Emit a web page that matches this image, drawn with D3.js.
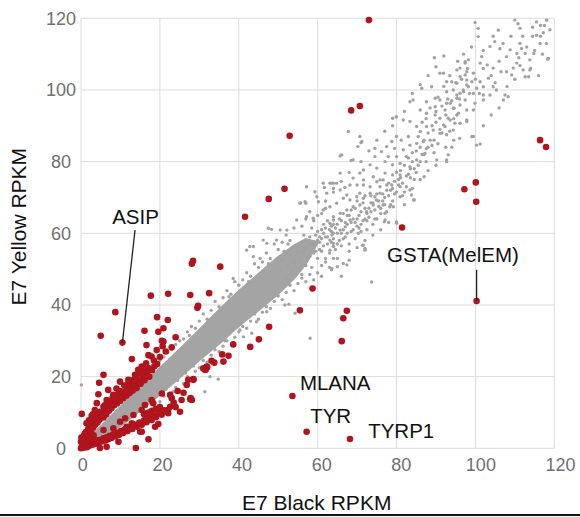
<!DOCTYPE html>
<html><head><meta charset="utf-8">
<script src="https://cdn.jsdelivr.net/npm/d3@7"></script>
<style>body{margin:0;background:#fff}svg{display:block}</style></head>
<body><svg id="c" width="580" height="517"></svg>
<script>
const xTicks=[0,20,40,60,80,100,120];
const yTicks=[0,20,40,60,80,100,120];
const xTitle="E7 Black RPKM";
const yTitle="E7 Yellow RPKM";
// dense core of the grey cloud (upper and lower edge, data units)
const coreUpper=[[0,0.9],[5,6],[10,11.5],[15,17],[20,22.3],[25,27.5],[30,33],[36,39.6],[40,43.8],[45,48.6],[50,53.3],[54,56.5],[57,58.3],[60,57.5]];
const coreLower=[[0.6,0],[5,2.8],[10,6.3],[15,10.6],[20,15.1],[25,19.8],[30,24.7],[36,30.2],[40,34.2],[45,38.6],[50,43.2],[54,47.5],[57,51.5]];
// individually visible grey genes
const greyPts=[
[0.1,17.7],[20.9,9],[34.8,19.3],[31.4,15.8],[32.7,20],[51.7,40],[52.7,40.2],[58.1,30.7],[54.3,37.7],[73.7,46.4],[47.1,38.1],[41.2,31.1],[40.3,33],[44.5,35.3],[43.3,32.1],[23.4,15.8],
[42,55.3],[43.7,56.3],[38.6,47.4],[42.8,56.3],[46.2,58.1],[47.1,57.2],[49.6,58.1],[43.7,53.5],[45.4,53],[47.5,61.4],[48.3,61.1],[50.5,60.9],[52.2,60.9],[54.7,63.7],[57.2,64.6],[58.9,64.2],[55.5,68.4],[56.8,68.8],[57.2,73],[59.3,71.6],[59.8,70.2],[60.2,68.8],[61.4,66.5],[63.6,74],[57,68.4],
[99.9,118.8],[100.7,117.2],[100.7,114.9],[105.8,116.7],[89.6,109],[103.7,112.1],[79.9,92.5],[70.7,87],[71,85.3],[65.7,81.6],[68.5,80.3],[61.7,72.8],[64,74],[55.7,68.5],[83.4,72.1],[84.5,69.3],[87,75.8],[92.7,80],[93.1,81.9],[99.1,87],[100.3,84.6],[101.2,84.9],[108.3,98.1],[107.1,97.2],[118.3,108.6],[118.9,116.8],[118.1,119.5],[80,63.2],[77.1,65.6],[78.3,67.4],[71.4,56.7],[63.6,59.5],[64,56.3],[72,55.8],
[110,119.5],[110.8,118.5],[111.3,117.2],[115.5,119],[116.5,118],[118,119.5],[117.2,116],[115.5,115.3],[114.5,115],[118,113],[116.4,113],[111.3,113],[111.7,111.6],[108.8,111.2],[110.5,110.2],[112.6,110.2],[114.8,110.2],[107.9,109.3],[118.5,108.8],[113.8,108.4],[110.5,107.5],[111.3,106.8],[109.6,106.1],[112.1,105.6],[113.8,105.6],[107.9,105.1],[106.5,105.1],[109.2,104.2],[112.6,103.7],[113.5,103.7],[104.5,106.1],[103.3,103.3],[101.2,107.5],[102,106],[99.5,104.7],[99.1,102.3],[101.2,102.3],[98.2,100.9],[100.3,100.5],[102,100.9],[104.5,100.9],[105.3,100],[107.5,98.6],[103.7,98.6],[102,98.6],[99.5,99],[96.9,100],[96.1,99.1],[97.4,97.2],[95.3,97.7],[94.4,100],[92.7,102.3],[91.9,104.7],[93.6,96.3],[92.3,94.4],[94.6,94.9],[95.7,93.5],[99.5,94.4],[99.9,96.3],[102,97.2],[97.8,91.6],[96.1,90.7],[93.6,91.6],[91.9,90.2],[94.4,88.8],[92.7,87.5],[99.5,87],[98.2,108.4],[97.4,107.5],[97.8,105.1],[95.3,105.6],[96.1,103.7],[97.8,102.8],[104.9,113.5],[106.2,111.5],[97.4,107.9],[101.6,109.3],
[91,104.7],[96.1,106.1],[97.4,104.2],[94,102.3],[95.3,101.9],[97.8,101.4],[86.4,100.5],[88.9,100.9],[89.8,97.7],[92.7,99.5],[95.3,98.6],[97,99.5],[83.4,96.7],[84.2,97.2],[87.6,96.7],[89.8,95.3],[91,97.2],[92.7,96.3],[94.4,94.9],[96.1,95.8],[97.8,94.4],[95.3,93],[86,94.4],[87.6,93.5],[89.8,93],[91,92.1],[93.1,92.1],[94.8,90.7],[97.8,91.2],[83.4,91.2],[85.1,89.8],[86,88.4],[87.6,89.8],[89.3,88.8],[91,87.9],[92.3,89.8],[81.7,91.6],[80,87],[78.8,85.6],[81.2,86],[83,87],[83.4,84.6],[85.1,85.1],[86.8,85.6],[87.6,83.7],[81.7,83.3],[79.5,83.7],[77.5,84.2],[76.2,82.8],[74.5,81.4],[77.9,81.4],[80,81.4],[82.5,81.4],[85.1,80.5],[87.2,82.3],[90.2,80.5],[92.7,80.5],[77.1,80],[79,79.1],[80.9,79.5],[83.4,78.6],[73.3,79.1],[75,78.2],[71.6,77.7],[70.7,76.8],[77.1,76.8],[79,76.3],[80.9,76.3],[74.1,75.8],[75.8,74.9],[71.6,74.9],[69,75.4],[68.2,73.5],[70,73.5],[73.3,73],[77.5,73.5],[80.9,73],[65.7,72.1],[64,72.5],[61.4,74],[62.3,71.2],[67.4,70.7],[70.7,71.2],[74.5,70.2],[65.7,76.8],[66.1,81.9],[67.8,88.4],[70.2,84.2],[71.2,85.6],[74.5,83.7],[80,92.5],[79,92.1],
[63.1,74],[64.8,74],[66.9,72.8],[71.6,73.5],[75,74.4],[75.8,73],[75.8,71.2],[76.6,74.9],[78.8,73.5],[73.3,71.2],[71.6,69.8],[69.9,70.2],[68.2,69.3],[66.5,69.8],[64.8,68.4],[63.1,67.4],[67.4,66.5],[65.7,65.6],[64,64.6],[69,67.4],[70.7,67.9],[74.1,67.9],[74.9,69.3],[72.4,66],[63.1,62.8],[64,63.7],[68.2,63.7],[65.7,60.9],[64,60],[67,61.8],[63.1,58.1],[64,57.2],[63.1,55.3],[64,53],[67.4,51.2],[66.5,51.6],[63.6,50.2],[76.6,67.9],[77.1,63.7],[80,62.8],[80.9,70.2],[83.8,70.7],[84.3,69.3],[79.2,67.4],[76.9,63.2],[70.3,60],[71.6,56.7],[72,55.3],[63.5,49.8],[65,50.7],[68,52.5],
[55,55],[56,57.5],[57,56],[58,59],[59,57],[60,60.5],[61,58.5],[62,61.5],[60.5,55.5],[62.5,57],[63.5,60.5],[65,62.5],[66,63.5],[66.5,58.5],[67.5,65],[68.5,66.5],[69.5,63],[70,69],[71,66],[72,70.5],[72.5,63.5],[73.5,68.5],[57.5,53],[59,54.5],[61.5,62.5],[58.5,61.5],[56.5,59.5],
[50.5,50],[51,52.5],[51.5,55],[52,47.5],[52.5,51],[53,54],[53.5,49],[54,52],[54.5,56.5],[55,50.5],[55.5,53],[56,48.5],[56.5,55],[57,51],[57.5,58],[58,53.5],[58.5,50.5],[59,56],[59.5,59.5],[60,53],[60.5,57.5],[61,55],[61.5,60],[62,52],[62.5,59],[63,54.5],[63.5,62],[64,58.5],[64.5,55.5],[65,60],[65.5,64],[66,56.5],[66.5,61],[67,59],[67.5,62.5],[68,57],[68.5,60.5],[69,64],[69.5,58.5],[70,62],[70.5,65],[71,60.5],[71.5,63.5],[72,67],[72.5,61],[73,64.5],[73.5,66],[74,62.5],[74.5,66.5],[75,64],[75.5,69],[76,65.5],[76.5,71],[77,68],[77.5,66],[78,70.5],[78.5,72],[79,69],[79.5,74.5],[80,71.5],[80.5,75],[81,77.5],[81.5,74],[82,79],[82.5,76],[83,81],[83.5,75.5],[84,82.5],[84.5,78],[85,83],[85.5,87],[86,80],[86.5,91],[87,86],[87.5,92],[88,84],[88.5,95],[89,90],[89.5,86],[90,94],[90.5,98],[91,89],[91.5,95.5],[92,101],[92.5,93],[93,97.5],[93.5,104],[94,97],[94.5,92],[95,102],[95.5,108],[96,97.5],[96.5,103],[97,110],[98,106],[98.5,99],[99,112],[100,103],[101,99],[102,111],[103,107],[104,104],[104.5,115],[105,102],[106,108],[107,113],[108,101],[109,115],[110,103],[111,109],[112,115],[113,112],[114,106],[114.5,117.5],[115,111],[116,104],[116.5,115],[117,110],[117.5,118],
[58.5,57],[59.5,55],[60.5,59],[61.5,56.5],[62.5,63.5],[63.5,57.5],[64.5,61.5],[65.5,58],[66.5,65.5],[67.5,60],[68.5,63],[69.5,67],[70.5,61.5],[71.5,68.5],[72.5,65.5],[73.5,70.5],[74.5,64],[75.5,67.5],[76.5,69],[77.5,72],[78.5,68],[79.5,71],[80.5,73.5],[81.5,70.5],[82.5,73],[83.5,78],[84.5,75],[85.5,79],[86.5,82],[87.5,80],[88.5,86],[89.5,82.5],[90.5,85],[91.5,88],[92.5,84],[93.5,88.5],[94.5,86],[60,58],[61,61],[62,59],[63,61],[64,62.5],[65,57],[66,60],[67,63],[68,65],[69,61],[70,64],[71,62.5],[72,64],[73,67],[74,68.5],[75,71],[76,67],[77,70],[78,74],[79,72.5],[80,77],[81,75.5],[82,71.5],[83,76.5],[84,80],[85,77],[86,84],[87,82],[88,88],[89,84.5],[90,91],
[59,47],[61,48],[63,50.5],[65,53],[66,48],[68,55],[70,56],[72,58],[74,59.5],[76,61],[78,63],[82,68],[84,72.5],[86,75],[88,77.5],[90,79],[94,84],[96,86.5],[102,90],[104,93],[106,95],
[60,65],[62,69],[64,71.5],[66,74.5],[68,77],[69,80.5],[71,80],[73,83],[75,86],[77,88.5],[79,90],[82,94],[84,99],[86,101.5],[88,104],[90,106.5],[92,109.5],
[20,24.5],[22,26.8],[24,29],[26,30.5],[27,32.5],[28,34],[30,35.5],[31,37.5],[33,38.5],[34,41],[36,42],[37,44],[38,43],[39,46.5],[41,47],[42,49],[43,48],[44,51.5],[46,52],[47,54.5],[48,53],[49,57],[51,57.5],[52,59.5],[53,58],[54,61.5],[56,62],[57,64],[58,66],[59,63.5],[61,65.5],[62,67],
[21,25.5],[23,27.5],[25,30],[27.5,31.5],[29,33.5],[32,36],[35,39.5],[37.5,42.3],[40,45.5],[42.5,46.5],[45,50.5],[47.5,51.5],[50,55.5],[52.5,57],
[20,13],[21,14.5],[23,15.5],[24,17],[26,18],[27,20],[29,21.5],[30,22.5],[32,24],[33,26],[35,27],[36,28.5],[37,30],[39,31],[40,32.5],[42,33.5],[43,35.5],[45,36],[46,38],[48,39],[49,41],[51,41.5],[52,43.5],[54,44],[55,46],[57,46.5],[58,48.5],[60,49],[61,51],[62,53],
[21.5,16.5],[24.5,19],[26.5,21],[28.5,23],[31,24.5],[34,27.5],[36.5,30],[38.5,33],[41,34],[44,37.5],[47,39.5],[50,42.5],[53,45.5],[56,47.5]
];
// differentially expressed genes (red)
const redPts=[
[73,119.5],[68.5,94.3],[70.7,95.5],[52.9,87.2],[116.4,86],[117.9,84.1],[97.2,72.3],[100.1,74.2],[100.2,68.8],[81.4,61.6],[51.6,72.4],[47.6,69.6],[41.6,64.6],[58.7,44.6],[55.5,38.5],[67.4,38.4],[66.5,36.3],[66.1,29.9],[100.3,41.1],[53.6,14.6],[57.2,4.6],[68.2,2.6],
[28.1,51.5],[28.4,52.3],[35.3,50.7],[32.5,43.3],[27.7,42.8],[22.1,43.1],[17.7,42.6],[29.5,39.2],[29.7,39.8],[47.7,33.9],[45.1,30.4],[42.9,28.3],[38.6,29],[35.8,26.2],[37.4,25.8],[36.1,24.2],[33.1,24.4],[33.8,23.9],[32,22.6],[31.6,21.9],[28.5,19.3],[27.7,13.7],[27.2,19.1],[26.8,17.7],
[8.7,38],[19.3,36.6],[22,35.8],[16.1,32.8],[19.6,32.5],[20.9,33.5],[5,31.4],[10.5,29.5],[20.9,29.8],[20.7,28.5],[16.6,28.8],[19.2,27.4],[17.1,26],[17.9,25.6],[12.9,24.9],[16.5,23.7],[15.4,22.8],[14.5,21.9],[13.7,20.5],[5.7,20.5],[4.6,18.3],[9.9,18.6],[12,19.1],[11.6,17.2],[12.9,17.7],[9,16.7],[6.9,16.3],[4.4,15.1],[8.2,14.9],[9.5,15.3],[10.3,14.4],[6.5,13.5],[4,12.6],[5.7,11.6],[0.2,9.6],[3.5,10.7],[4.8,10.2],[2.7,9],[1.4,7],[1.9,5.6],[1,4.2],
[31.9,22.8],[31.4,21.9],[27.8,14],[25.1,10.2],[22.6,14.9],[23,14],[20.5,15.3],[22.6,11.6],[22.1,10.7],[17.9,13.5],[18.3,12.6],[16.2,12.1],[15.4,10.7],[19.6,6.8],[17.9,7.9],[13.3,9.3],[11.2,8.4],[9.9,7.4],[15,4.6],[17.1,2.5],[13.9,0.1],[9.5,1.8],[6.5,0.4],[4.8,0.1],[7.4,3.2],[5.7,5.1],[8.2,5.6],[11.6,6],[12.9,7],[28.1,13.5],[28.5,19.1],[31,22.3],[22.1,9.8],[18.8,6],[15.4,4.6],
[0.3,1.5],[0.5,2.6],[0.8,3.6],[1.1,2.2],[1.3,4.6],[1.6,3.2],[1.9,5.3],[2.1,4.1],[2.3,6.2],[2.6,5.1],[2.9,7],[3.1,5.8],[3.3,7.8],[3.6,6.6],[3.9,8.3],[4.2,7.2],[4.4,9.2],[4.7,8],[5.1,8.7],[5.4,10],[5.7,8.6],[6.1,10.3],[6.4,9.4],[6.7,11.3],[7.1,10.5],[7.4,12.2],[7.7,11.2],[8.1,12.7],[8.4,12],[8.8,13.4],[9.1,12.5],[9.5,14],[9.9,13.2],[10.3,15],[10.7,14],[11.1,15.7],[11.5,14.7],[11.9,16.5],[12.3,15.4],[12.7,17],[13.1,16.1],[13.6,17.8],[14.1,16.8],[14.6,18.7],[15.1,18],[15.6,19.8],[16.1,19],[16.7,20.8],[17.3,20],[18,21.8],[18.6,22.9],[19.3,23.5],[16,21.5],[14,19.8],[12,18],[10,16],[8,14],[6,12],[3,9.5],[2,7.8],[7,13],[11,17.5],[13,19],[15,21],[17,22.5],[18.5,24.5],[20,25.5],[21.5,27],[20.5,30],[23,28.2],[24,31],
[0.5,0.3],[0.9,0.8],[1.3,0.5],[1.7,1.2],[2.1,0.7],[2.5,1.5],[2.9,1],[3.3,1.9],[3.7,1.3],[4.1,2.2],[4.5,1.6],[4.9,2.4],[5.3,1.9],[5.7,2.8],[6.1,2.2],[6.5,3.1],[6.9,2.5],[7.3,3.5],[7.7,2.9],[8.2,3.9],[8.7,3.3],[9.2,4.4],[9.7,3.8],[10.2,4.9],[10.7,4.3],[11.2,5.4],[11.8,4.8],[12.4,6],[13,5.4],[13.6,6.6],[14.2,6],[14.8,7.2],[15.4,6.6],[16,7.8],[16.6,7.3],[17.2,8.5],[17.8,8],[18.4,9.2],[19,8.7],[19.7,9.9],[20.4,9.4],[21.1,10.6],[21.8,10.1],[20,11.5],[19,11],[18,10.5],[17,10],[16,9.5],[24,11.5],[23.5,12.8],[25.5,13.5],[26,15.5],[24.5,16],
[0,0],[0.3,0.8],[0.8,0.2],[0.2,0.5],[1.2,1.5],[0.6,1.2],[1.5,0.3],[0,1.8],[0.1,3],[1.8,2.2],[2.2,2.8],[2.7,3.3],[3.2,3.6]
];
// labelled genes: point (x,y) and label anchor (lx,ly) in data units
const geneNames=["ASIP","GSTA(MelEM)","MLANA","TYR","TYRP1"];
const genePoint=[[10.5,29.5],[100.3,41.1],[53.6,14.6],[57.2,4.6],[68.2,2.6]];
const geneLabelAt=[[7.9,62.5],[77.6,52],[55.5,16.3],[58.1,7.1],[72.8,2.9]];
const geneLeaderFrom=[[13.7,60.9],[100.3,49.8],null,null,null];

const svg=d3.select("#c");
svg.append("rect").attr("width",580).attr("height",517).attr("fill","#fff");
const x=d3.scaleLinear().domain([0,120]).range([81,554.3]);
const y=d3.scaleLinear().domain([0,120]).range([448.3,18.3]);
const xLab=d3.scaleLinear().domain([0,120]).range([82.8,560.5]);
const font="'Liberation Sans', Arial, Helvetica, sans-serif";

// grid
const g=svg.append("g");
g.selectAll("line.v").data(xTicks).join("line").attr("x1",d=>x(d)).attr("x2",d=>x(d)).attr("y1",y(0)).attr("y2",y(120)).attr("stroke","#dcdcdc").attr("stroke-width",1);
g.selectAll("line.h").data(yTicks).join("line").attr("y1",d=>y(d)).attr("y2",d=>y(d)).attr("x1",x(0)).attr("x2",x(120)).attr("stroke","#dcdcdc").attr("stroke-width",1);

// tick labels
svg.append("g").selectAll("text").data(xTicks).join("text").attr("x",d=>xLab(d)).attr("y",471).attr("text-anchor","middle").attr("font-family",font).attr("font-size",18).attr("fill","#707070").text(d=>d);
svg.append("g").selectAll("text").data(yTicks).join("text").attr("x",61).attr("y",d=>y(d)+6.5).attr("text-anchor","middle").attr("font-family",font).attr("font-size",18).attr("fill","#707070").text(d=>d);

// titles
svg.append("text").attr("x",316.7).attr("y",510).attr("text-anchor","middle").attr("font-family",font).attr("font-size",21).attr("fill","#111").text(xTitle);
svg.append("text").attr("transform","translate(26,226.7) rotate(-90)").attr("text-anchor","middle").attr("font-family",font).attr("font-size",21).attr("fill","#111").text(yTitle);

// dense core
const poly=coreUpper.concat(coreLower.slice().reverse());
svg.append("path").attr("d",d3.line().x(d=>x(d[0])).y(d=>y(d[1])).curve(d3.curveLinearClosed)(poly)).attr("fill","#a4a4a4").attr("stroke","#a4a4a4").attr("stroke-width",2.5).attr("stroke-linejoin","round");

// grey points
svg.append("g").selectAll("circle").data(greyPts).join("circle").attr("cx",d=>x(d[0])).attr("cy",d=>y(d[1])).attr("r",1.7).attr("fill","#a2a2a2");
// red points
svg.append("g").selectAll("circle").data(redPts).join("circle").attr("cx",d=>x(d[0])).attr("cy",d=>y(d[1])).attr("r",3.3).attr("fill","#b0141c");

// leaders
geneLeaderFrom.forEach((f,i)=>{ if(!f) return;
  svg.append("line").attr("x1",x(f[0])).attr("y1",y(f[1])).attr("x2",x(genePoint[i][0])).attr("y2",y(genePoint[i][1])).attr("stroke","#222").attr("stroke-width",1.3);
});
svg.append("g").selectAll("text").data(geneNames).join("text").attr("x",(d,i)=>x(geneLabelAt[i][0])).attr("y",(d,i)=>y(geneLabelAt[i][1])).attr("font-family",font).attr("font-size",20.5).attr("fill","#111").text(d=>d);

// bottom rule
svg.append("line").attr("x1",0).attr("x2",580).attr("y1",515).attr("y2",515).attr("stroke","#111").attr("stroke-width",2);
</script></body></html>
